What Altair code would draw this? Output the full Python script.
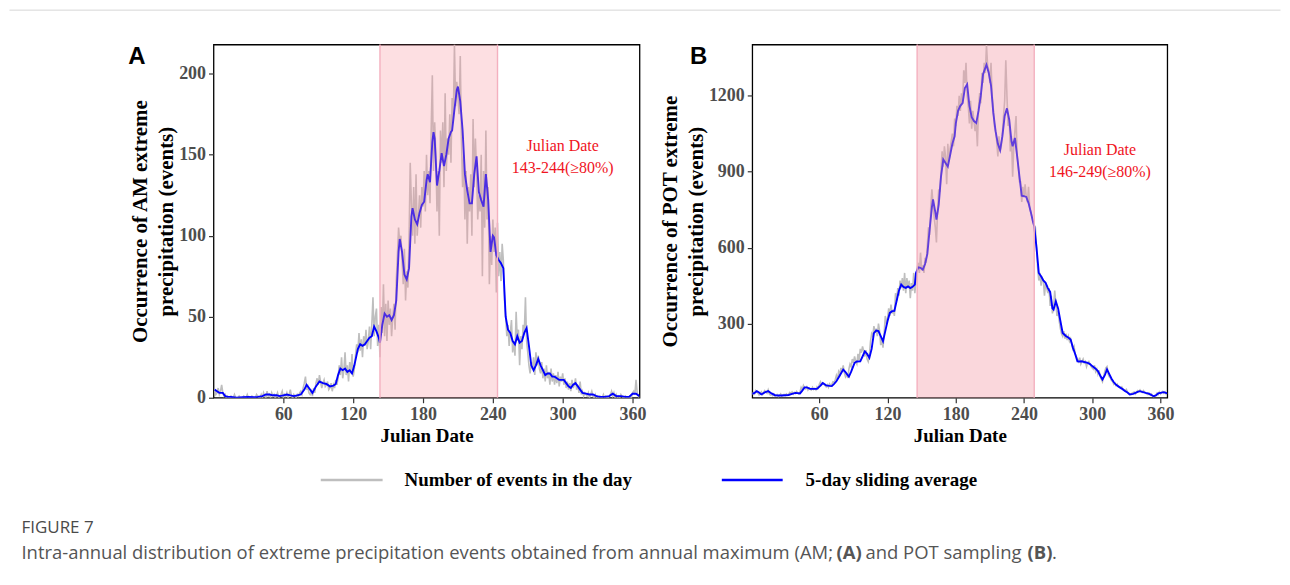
import altair as alt
import pandas as pd

# ---------------- data ----------------
days = list(range(1, 367))

am_daily = [
    5, 2, 3, 6, 2, 4, 8, 3, 1, 2,
    0, 1, 0, 0, 1, 0, 0, 2, 0, 0,
    0, 1, 0, 0, 0, 1, 0, 0, 2, 0,
    0, 0, 1, 0, 0, 0, 2, 1, 0, 0,
    2, 0, 3, 1, 0, 4, 1, 2, 0, 3,
    1, 2, 0, 1, 3, 0, 1, 2, 4, 0,
    2, 1, 3, 0, 2, 5, 1, 0, 2, 1,
    0, 2, 1, 3, 4, 2, 6, 9, 13, 5,
    7, 3, 2, 4, 1, 6, 3, 9, 12, 8,
    14, 10, 6, 9, 11, 7, 8, 10, 5, 6,
    9, 4, 8, 6, 11, 8, 12, 20, 14, 25,
    12, 17, 28, 14, 20, 10, 22, 15, 27, 13,
    18, 26, 33, 28, 40, 29, 36, 25, 38, 32,
    42, 30, 35, 44, 30, 45, 62, 38, 50, 55,
    32, 45, 25, 56, 40, 70, 38, 58, 35, 60,
    45, 55, 38, 50, 58, 42, 72, 88, 105, 95,
    100, 85, 70, 92, 60, 78, 68, 98, 145, 120,
    100, 130, 95, 138, 100, 112, 125, 105, 130, 118,
    140, 115, 150, 125, 140, 120, 165, 199, 140, 170,
    150, 115, 140, 100, 165, 145, 170, 130, 188, 140,
    160, 150, 175, 145, 185, 170, 218, 180, 195, 185,
    175, 211, 160, 130, 150, 110, 140, 95, 130, 115,
    138, 100, 172, 130, 160, 140, 110, 125, 115, 150,
    75, 140, 105, 165, 110, 130, 70, 100, 82, 110,
    90, 105, 65, 108, 75, 90, 72, 95, 85, 60,
    50, 38, 45, 32, 40, 48, 28, 35, 26, 53,
    35, 42, 20, 38, 30, 45, 40, 62, 35, 28,
    20, 15, 22, 18, 25, 14, 28, 20, 26, 18,
    15, 22, 12, 18, 10, 20, 12, 16, 8, 18,
    10, 15, 8, 14, 9, 16, 7, 13, 10, 15,
    8, 12, 6, 10, 5, 9, 4, 11, 6, 8,
    12, 5, 8, 3, 10, 2, 4, 1, 3, 2,
    1, 3, 0, 2, 4, 1, 0, 2, 0, 1,
    0, 1, 0, 0, 2, 0, 1, 0, 0, 1,
    2, 4, 1, 3, 0, 2, 0, 1, 0, 2,
    1, 0, 0, 1, 0, 0, 0, 1, 0, 3,
    4, 2, 11, 3, 1, 0,
]

am_avg_days = [1, 3, 5, 8, 10, 12, 15, 20, 25, 30, 35, 38, 42, 45, 48, 51, 54, 57, 60, 63,
               66, 69, 72, 75, 78, 80, 82, 85, 88, 91, 94, 97, 100, 103, 105, 107, 109, 111, 113, 115,
               117, 119, 121, 124, 126, 128, 130, 132, 134, 136, 138, 140, 142, 143, 145, 147, 149, 151, 153, 155,
               157, 159, 160, 162, 164, 166, 168, 170, 171, 173, 175, 177, 179, 181, 183, 184, 186, 188, 189, 190,
               192, 194, 196, 198, 200, 202, 204, 205, 207, 209, 210, 212, 214, 216, 218, 220, 222, 224, 226, 228,
               230, 232, 234, 236, 238, 240, 241, 243, 245, 247, 249, 251, 253, 255, 257, 259, 261, 263, 265, 267,
               269, 271, 273, 275, 277, 279, 281, 283, 285, 287, 289, 291, 293, 295, 297, 299, 301, 303, 305, 307,
               309, 311, 313, 315, 317, 320, 323, 326, 329, 332, 336, 340, 343, 346, 350, 354, 357, 360, 363, 366]
am_avg_vals = [5, 4, 3, 3, 1, 0.5, 0.5, 0, 0.3, 0.5, 0.3, 0.5, 1, 2, 2, 1.5, 1.5, 1, 1.5, 2,
               1.5, 1, 1.5, 2, 5, 8, 6, 3, 7, 10, 9, 8.5, 7, 7.5, 8.5, 14, 18, 17, 18, 16,
               17, 15, 20, 30, 33, 32, 33, 35, 37, 38, 44, 41, 37, 34, 45, 52, 50, 51, 48, 51,
               60, 90, 98, 90, 76, 73, 80, 112, 117, 110, 107, 114, 119, 121, 134, 138, 133, 158, 164, 160,
               131, 140, 151, 143, 150, 160, 164, 165, 178, 190, 192, 183, 165, 138, 128, 120, 120, 138, 149, 127,
               122, 118, 138, 122, 90, 100, 99, 88, 85, 83, 80, 50, 42, 40, 35, 33, 38, 34, 35, 40,
               43, 32, 20, 17, 20, 24, 20, 17, 14, 15, 15, 13, 13, 12, 11, 11, 11, 9, 7, 6,
               8, 9, 7, 5, 3, 2.5, 2, 2, 1, 0.5, 0.5, 1, 2.5, 1, 1, 0.5, 0.5, 2.5, 2.5, 1]

pot_daily = [
    20, 28, 22, 35, 30, 25, 18, 22, 30, 20,
    28, 35, 30, 25, 38, 22, 18, 20, 15, 22,
    14, 18, 20, 12, 16, 22, 14, 18, 20, 16,
    22, 18, 20, 28, 24, 30, 22, 28, 24, 32,
    26, 22, 30, 48, 40, 55, 45, 42, 50, 38,
    45, 40, 38, 48, 40, 44, 38, 50, 45, 60,
    70, 58, 65, 60, 55, 50, 58, 48, 62, 55,
    60, 70, 68, 78, 95, 80, 110, 100, 125, 110,
    135, 105, 90, 100, 85, 120, 140, 130, 160, 145,
    170, 150, 140, 180, 155, 200, 185, 210, 190, 170,
    195, 160, 150, 175, 230, 260, 250, 290, 265, 280,
    250, 300, 270, 215, 240, 205, 260, 330, 300, 320,
    360, 330, 375, 340, 355, 330, 420, 390, 440, 410,
    470, 440, 480, 430, 500, 420, 480, 440, 470, 400,
    460, 430, 500, 420, 470, 520, 540, 500, 580, 510,
    530, 500, 560, 540, 610, 680, 650, 760, 830, 770,
    720, 680, 620, 750, 830, 820, 900, 980, 920, 1000,
    960, 850, 1010, 940, 990, 1020, 1050, 1000, 1110, 1080,
    1160, 1120, 1200, 1140, 1210, 1170, 1300, 1250, 1330, 1200,
    1160, 1090, 1180, 1070, 1140, 1100, 1060, 1090, 1000, 1150,
    1210, 1170, 1290, 1250, 1330, 1290, 1400, 1320, 1300, 1250,
    1330, 1200, 1150, 1080, 1060, 1020, 960, 1040, 980, 1000,
    1050, 1120, 1180, 1340, 1200, 1080, 1110, 980, 1040, 880,
    1000, 1060, 1120, 960, 920, 860, 860, 780, 840, 800,
    850, 800, 780, 840, 760, 740, 720, 700, 690, 680,
    600, 520, 470, 500, 450, 480, 470, 410, 460, 440,
    420, 440, 370, 410, 340, 360, 430, 380, 330, 350,
    310, 280, 260, 250, 270, 240, 260, 235, 250, 230,
    240, 220, 200, 210, 180, 170, 160, 150, 165, 140,
    150, 160, 145, 150, 130, 145, 150, 140, 130, 125,
    120, 135, 110, 120, 100, 115, 90, 80, 70, 90,
    110, 125, 130, 100, 90, 85, 75, 70, 60, 65,
    55, 60, 50, 48, 45, 50, 40, 38, 35, 40,
    30, 25, 22, 20, 25, 28, 30, 22, 30, 35,
    32, 38, 30, 28, 35, 30, 25, 22, 20, 25,
    18, 22, 15, 12, 14, 18, 25, 20, 30, 22,
    28, 32, 25, 30, 22, 26,
]

pot_avg_days = [1, 3, 5, 7, 9, 12, 15, 18, 21, 24, 27, 30, 33, 36, 39, 43, 45, 47, 49, 52,
                55, 58, 61, 63, 66, 69, 71, 73, 75, 78, 81, 83, 86, 88, 91, 93, 96, 98, 100, 102,
                104, 106, 108, 110, 112, 114, 116, 118, 120, 122, 124, 126, 128, 130, 132, 134, 136, 138, 140, 142,
                144, 145, 147, 149, 151, 153, 155, 157, 159, 160, 162, 163, 165, 167, 169, 171, 173, 175, 177, 179,
                180, 182, 184, 186, 188, 190, 192, 194, 196, 198, 200, 202, 204, 206, 207, 209, 211, 213, 215, 217,
                219, 221, 223, 225, 227, 229, 230, 232, 234, 236, 238, 240, 242, 244, 246, 248, 249, 251, 253, 255,
                257, 259, 261, 263, 265, 266, 268, 270, 272, 274, 277, 279, 281, 283, 285, 287, 289, 291, 293, 296,
                298, 300, 303, 305, 307, 309, 311, 313, 315, 317, 319, 321, 323, 325, 327, 329, 331, 333, 336, 338,
                340, 342, 344, 347, 349, 351, 354, 356, 358, 361, 363, 366]
pot_avg_vals = [22, 26, 33, 28, 20, 28, 33, 24, 17, 16, 16, 17, 18, 22, 26, 24, 35, 48, 48, 42,
                42, 42, 55, 65, 56, 54, 53, 62, 72, 95, 118, 108, 90, 110, 145, 150, 151, 170, 190, 180,
                165, 200, 262, 272, 270, 250, 230, 270, 310, 342, 349, 350, 390, 430, 454, 445, 441, 447, 440, 445,
                454, 500, 522, 520, 513, 535, 575, 671, 760, 790, 740, 711, 770, 880, 948, 934, 920, 965, 1010, 1040,
                1090, 1140, 1160, 1171, 1230, 1245, 1160, 1115, 1100, 1092, 1140, 1200, 1285, 1310, 1322, 1290, 1240, 1132, 1060, 1010,
                985, 1040, 1120, 1150, 1105, 1020, 1000, 1033, 960, 880, 805, 803, 800, 776, 740, 700, 684, 600, 500, 487,
                470, 461, 440, 425, 360, 355, 388, 360, 310, 263, 250, 245, 237, 205, 180, 151, 150, 151, 148, 145,
                140, 132, 122, 112, 95, 79, 95, 119, 100, 82, 68, 58, 52, 46, 40, 33, 28, 20, 22, 26,
                30, 33, 30, 26, 24, 20, 13, 16, 24, 27, 29, 24]

am_range = [143, 244]
pot_range = [146, 249]
x_ticks = [60, 120, 180, 240, 300, 360]
am_y_ticks = [0, 50, 100, 150, 200]
pot_y_ticks = [300, 600, 900, 1200]
am_note = ["Julian Date", "143-244(\u226580%)"]
pot_note = ["Julian Date", "146-249(\u226580%)"]
legend_labels = ["Number of events in the day", "5-day sliding average"]
fig_label = "FIGURE 7"
caption_parts = ["Intra-annual distribution of extreme precipitation events obtained from annual maximum (AM;",
                 "(A)", "and POT sampling", "(B)", "."]

assert len(am_daily) == 366 and len(pot_daily) == 366
assert len(am_avg_days) == len(am_avg_vals)
assert len(pot_avg_days) == len(pot_avg_vals)

# ---------------- layout constants ----------------
W_A, W_B, H = 427, 416, 354
SERIF = "Liberation Serif"
GREY = "#bebebe"
BLUE = "#0000ff"
RED = "#f0141e"


def panel(daily, avg_d, avg_v, rng, x_dom, y_dom, y_ticks, y_title,
          letter, letter_x, note, note_x, note_y, shade, shade_op):
    daily_df = pd.DataFrame({"day": days, "value": daily})
    avg_df = pd.DataFrame({"day": avg_d, "value": avg_v})
    rng_df = pd.DataFrame({"start": [rng[0]], "end": [rng[1]]})

    xenc = alt.X("day:Q", scale=alt.Scale(domain=x_dom, nice=False, zero=False),
                 axis=alt.Axis(values=x_ticks, title="Julian Date", titlePadding=3))
    yenc = alt.Y("value:Q", scale=alt.Scale(domain=y_dom, nice=False, zero=False),
                 axis=alt.Axis(values=y_ticks, format="d", title=y_title, titlePadding=2,
                               titleFontSize=21, titleLineHeight=26))

    grey = alt.Chart(daily_df).mark_line(color=GREY, strokeWidth=1.6, clip=True).encode(x=xenc, y=yenc)
    blue = alt.Chart(avg_df).mark_line(color=BLUE, strokeWidth=1.9, clip=True).encode(x="day:Q", y="value:Q")
    rect = alt.Chart(rng_df).mark_rect(color=shade, opacity=shade_op).encode(
        x="start:Q", x2="end:Q", y=alt.value(0), y2=alt.value(H))
    edge1 = alt.Chart(rng_df).mark_rule(color="#f4b0bf", strokeWidth=1.4).encode(
        x="start:Q", y=alt.value(0), y2=alt.value(H))
    edge2 = alt.Chart(rng_df).mark_rule(color="#f4b0bf", strokeWidth=1.4).encode(
        x="end:Q", y=alt.value(0), y2=alt.value(H))
    let = alt.Chart(pd.DataFrame({"t": [letter]})).mark_text(
        font="Liberation Sans", fontWeight="bold", fontSize=24, align="left", baseline="alphabetic",
        color="black").encode(x=alt.value(letter_x), y=alt.value(19.5), text="t:N")
    n1 = alt.Chart(pd.DataFrame({"t": [note[0]]})).mark_text(
        font=SERIF, fontSize=16, align="center", baseline="alphabetic", color=RED).encode(
        x=alt.value(note_x), y=alt.value(note_y), text="t:N")
    n2 = alt.Chart(pd.DataFrame({"t": [note[1]]})).mark_text(
        font=SERIF, fontSize=16, align="center", baseline="alphabetic", color=RED).encode(
        x=alt.value(note_x), y=alt.value(note_y + 22.5), text="t:N")
    return [grey, blue, rect, edge1, edge2, let, n1, n2]


layers_a = panel(am_daily, am_avg_days, am_avg_vals, am_range, [0, 366], [0, 218], am_y_ticks,
                 ["Occurrence of AM extreme", "precipitation (events)"],
                 "A", -85.5, am_note, 350, 106.5, "#f7959f", 0.3)
layers_b = panel(pot_daily, pot_avg_days, pot_avg_vals, pot_range, [1, 366], [7, 1402], pot_y_ticks,
                 ["Occurrence of POT extreme", "precipitation (events)"],
                 "B", -62.5, pot_note, 348.5, 110.5, "#f29aa8", 0.4)

# legend + caption + frame line, positioned relative to panel A's plot area
one = pd.DataFrame({"k": [0]})
leg_grey = alt.Chart(one).mark_rule(color=GREY, strokeWidth=2.5).encode(
    x=alt.value(107.5), x2=alt.value(169.5), y=alt.value(436.5))
leg_blue = alt.Chart(one).mark_rule(color=BLUE, strokeWidth=2.5).encode(
    x=alt.value(509.5), x2=alt.value(570.5), y=alt.value(436.5))
leg_t1 = alt.Chart(pd.DataFrame({"t": [legend_labels[0]]})).mark_text(
    font=SERIF, fontWeight="bold", fontSize=19, align="left", baseline="middle", color="black").encode(
    x=alt.value(191.5), y=alt.value(436.5), text="t:N")
leg_t2 = alt.Chart(pd.DataFrame({"t": [legend_labels[1]]})).mark_text(
    font=SERIF, fontWeight="bold", fontSize=19, align="left", baseline="middle", color="black").encode(
    x=alt.value(593.5), y=alt.value(436.5), text="t:N")
top_line = alt.Chart(one).mark_rule(color="#d6d6d6", strokeWidth=1).encode(
    x=alt.value(-204.5), x2=alt.value(1069.5), y=alt.value(-34.5))
fig_t = alt.Chart(pd.DataFrame({"t": [fig_label]})).mark_text(
    font="Open Sans", fontSize=17, align="left", baseline="middle", color="#4a4a4a").encode(
    x=alt.value(-192.5), y=alt.value(484.5), text="t:N")

cap_x = [-192.5, 624.5, 653.5, 816.0, 840.5]
cap_bold = [False, True, False, True, False]
cap_layers = []
for part, cx, b in zip(caption_parts, cap_x, cap_bold):
    cap_layers.append(alt.Chart(pd.DataFrame({"t": [part]})).mark_text(
        font="Open Sans", fontSize=18.5, fontWeight="bold" if b else "normal", align="left",
        baseline="middle", color="#555555").encode(x=alt.value(cx), y=alt.value(509.5), text="t:N"))

chart_a = alt.layer(*layers_a, leg_grey, leg_blue, leg_t1, leg_t2, top_line, fig_t, *cap_layers).properties(
    width=W_A, height=H)
chart_b = alt.layer(*layers_b).properties(width=W_B, height=H)

chart = alt.hconcat(chart_a, chart_b, spacing=113, bounds="flush", padding=0,
                    background="white").configure_view(
    stroke="black", strokeWidth=1.3).configure_axis(
    grid=False, domain=False, labelFont=SERIF, labelFontWeight="bold", labelFontSize=18,
    labelColor="#4d4d4d", tickColor="#333333", tickSize=5, tickWidth=1.2, labelPadding=3,
    titleFont=SERIF, titleFontWeight="bold", titleFontSize=19, titleColor="black")

chart.save("out.html", embed_options={"renderer": "svg", "actions": False})
